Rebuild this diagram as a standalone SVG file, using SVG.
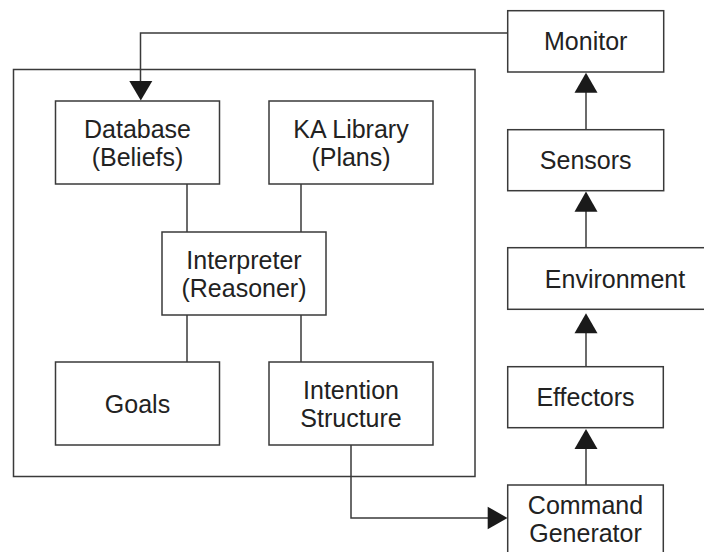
<svg xmlns="http://www.w3.org/2000/svg" width="704" height="552" viewBox="0 0 704 552">
<style>
.box{fill:#fff;stroke:#3a3a3a;stroke-width:1.5}
.ln{fill:none;stroke:#3a3a3a;stroke-width:1.5}
.ah{fill:#1a1a1a;stroke:none}
text{font-family:"Liberation Sans",Arial,sans-serif;font-size:25px;fill:#222;text-anchor:middle}
</style>
<rect width="704" height="552" fill="#fff"/>
<g id="agent"><rect class="box" x="13.5" y="69.5" width="461.5" height="407"/></g>
<g id="connectors">
<line class="ln" x1="187" y1="184" x2="187" y2="232"/>
<line class="ln" x1="301" y1="184" x2="301" y2="232"/>
<line class="ln" x1="187" y1="315" x2="187" y2="362"/>
<line class="ln" x1="301" y1="315" x2="301" y2="362"/>
<polyline class="ln" points="507.7,33 140.5,33 140.5,85"/>
<polygon class="ah" points="129.3,81 152.3,81 140.8,100.5"/>
<polyline class="ln" points="351,445 351,518 490,518"/>
<polygon class="ah" points="487.7,506.7 487.7,529.3 507.5,518"/>
<line class="ln" x1="586" y1="90" x2="586" y2="129.7"/>
<polygon class="ah" points="574.5,92.7 597.5,92.7 586,72.7"/>
<line class="ln" x1="586" y1="209" x2="586" y2="247.7"/>
<polygon class="ah" points="574.5,211.7 597.5,211.7 586,191.5"/>
<line class="ln" x1="586" y1="331" x2="586" y2="366.7"/>
<polygon class="ah" points="574.5,333.3 597.5,333.3 586,313.3"/>
<line class="ln" x1="586" y1="447" x2="586" y2="485"/>
<polygon class="ah" points="574.5,449 597.5,449 586,429"/>
</g>
<g id="database"><rect class="box" x="55.5" y="101" width="164" height="83"/><text x="137.5" y="137.5">Database</text><text x="137.5" y="165.5">(Beliefs)</text></g>
<g id="kalibrary"><rect class="box" x="269" y="101" width="164" height="83"/><text x="351" y="137.5">KA Library</text><text x="351" y="165.5">(Plans)</text></g>
<g id="interpreter"><rect class="box" x="162" y="232" width="164" height="83"/><text x="244" y="268.5">Interpreter</text><text x="244" y="296.5">(Reasoner)</text></g>
<g id="goals"><rect class="box" x="55.5" y="362" width="164" height="83"/><text x="137.5" y="412.5">Goals</text></g>
<g id="intention"><rect class="box" x="269" y="362" width="164" height="83"/><text x="351" y="398.5">Intention</text><text x="351" y="426.5">Structure</text></g>
<g id="monitor"><rect class="box" x="507.7" y="10.7" width="156" height="61.3"/><text x="585.7" y="50.3">Monitor</text></g>
<g id="sensors"><rect class="box" x="507.7" y="129.7" width="156" height="61"/><text x="585.7" y="169.2">Sensors</text></g>
<g id="environment"><rect class="box" x="507.7" y="247.7" width="215" height="61.6"/><text x="615" y="287.5">Environment</text></g>
<g id="effectors"><rect class="box" x="507.7" y="366.7" width="155.6" height="61"/><text x="585.5" y="406.2">Effectors</text></g>
<g id="command"><rect class="box" x="507.7" y="485" width="155.6" height="80"/><text x="585.5" y="514">Command</text><text x="585.5" y="542">Generator</text></g>
</svg>
